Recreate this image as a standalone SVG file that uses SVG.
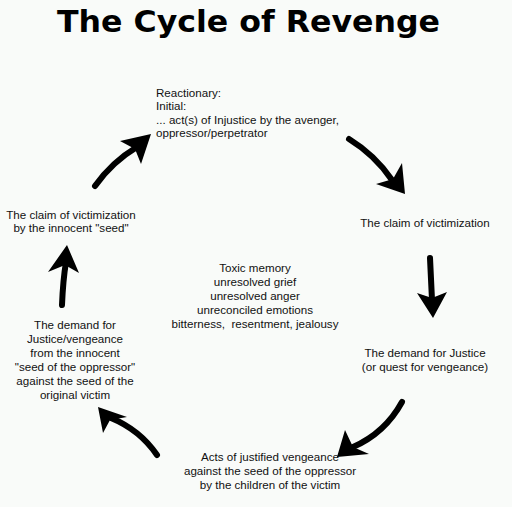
<svg xmlns="http://www.w3.org/2000/svg" width="512" height="507" viewBox="0 0 512 507">
<style>
.t{font-family:"Liberation Sans",Arial,sans-serif;font-size:11.6px;fill:#111;white-space:pre}
.c{text-anchor:middle}
.title{font-family:"DejaVu Sans",sans-serif;font-weight:900;font-size:31px;fill:#000}
.shaft{fill:none;stroke:#000;stroke-width:6;stroke-linecap:round}
.head{fill:#000}
</style>
<rect width="512" height="507" fill="#f9fbf9"/>
<text class="title" x="57" y="32" textLength="383" lengthAdjust="spacingAndGlyphs">The Cycle of Revenge</text>
<g id="n-top"><text class="t" x="156" y="97">Reactionary:</text><text class="t" x="156" y="110">Initial:</text><text class="t" x="156" y="124">... act(s) of Injustice by the avenger,</text><text class="t" x="156" y="137">oppressor/perpetrator</text></g>
<g id="n-right1"><text class="t c" x="425" y="227">The claim of victimization</text></g>
<g id="n-right2"><text class="t c" x="425" y="357">The demand for Justice</text><text class="t c" x="425" y="371">(or quest for vengeance)</text></g>
<g id="n-bottom"><text class="t c" x="270" y="461">Acts of justified vengeance</text><text class="t c" x="270" y="475">against the seed of the oppressor</text><text class="t c" x="270" y="489">by the children of the victim</text></g>
<g id="n-left2"><text class="t c" x="75" y="329">The demand for</text><text class="t c" x="75" y="343">Justice/vengeance</text><text class="t c" x="75" y="357">from the innocent</text><text class="t c" x="75" y="371">"seed of the oppressor"</text><text class="t c" x="75" y="385">against the seed of the</text><text class="t c" x="75" y="399">original victim</text></g>
<g id="n-left1"><text class="t c" x="71" y="219">The claim of victimization</text><text class="t c" x="71" y="232">by the innocent "seed"</text></g>
<g id="n-center"><text class="t c" x="255" y="272">Toxic memory</text><text class="t c" x="255" y="286">unresolved grief</text><text class="t c" x="255" y="300">unresolved anger</text><text class="t c" x="255" y="314">unreconciled emotions</text><text class="t c" x="255" y="328">bitterness,  resentment, jealousy</text></g>
<g id="connectors">
<path class="shaft" d="M95,186 Q112,162 137,147"/><polygon class="head" points="151,134 120,141 135,149 141,164"/>
<path class="shaft" d="M349,139 Q375,155 392,180"/><polygon class="head" points="405,194 402,163 393,179 376,184"/>
<path class="shaft" d="M430,258 Q431,280 432,300"/><polygon class="head" points="433,318 417,293 432,298 447,292"/>
<path class="shaft" d="M402,402 Q385,433 353,447"/><polygon class="head" points="337,457 345,430 353,447 369,454"/>
<path class="shaft" d="M157,455 Q140,430 111,418"/><polygon class="head" points="98,407 127,417 110,420 103,433"/>
<path class="shaft" d="M62,305 Q63,280 66,262"/><polygon class="head" points="67,245 48,272 65,265 79,273"/>
</g>
</svg>
